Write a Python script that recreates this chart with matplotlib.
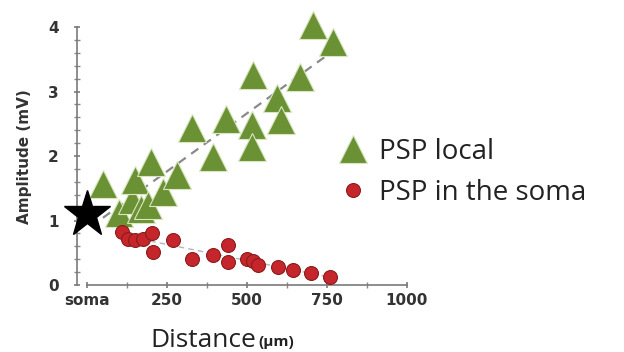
import numpy as np
import matplotlib
matplotlib.use("Agg")
import matplotlib.pyplot as plt
from matplotlib.ticker import MultipleLocator, FixedLocator

# Distance from soma (µm) and PSP amplitude (mV)
local_dist = [50, 100, 140, 150, 170, 192, 200, 239, 281, 328, 394, 436,
              515, 515, 519, 593, 608, 666, 707, 770]
local_amp = [1.57, 1.12, 1.32, 1.63, 1.18, 1.24, 1.90, 1.45, 1.71, 2.43, 1.98, 2.58,
             2.48, 2.14, 3.26, 2.90, 2.56, 3.23, 4.03, 3.77]

soma_dist = [108, 129, 150, 176, 202, 207, 270, 327, 394, 442, 442, 499,
             519, 535, 598, 645, 702, 760]
soma_amp = [0.83, 0.72, 0.70, 0.72, 0.80, 0.52, 0.70, 0.41, 0.46, 0.62, 0.36, 0.41,
            0.37, 0.31, 0.28, 0.23, 0.18, 0.12]

soma_ref_dist = [0]
soma_ref_amp = [1.1]

xtick_vals = [0, 250, 500, 750, 1000]
xtick_labels = ["soma", "250", "500", "750", "1000"]
ytick_vals = [0, 1, 2, 3, 4]

green = "#6a9133"
red = "#c4262b"

fig = plt.figure(figsize=(6.24, 3.52), dpi=100)
ax = fig.add_axes([0.124, 0.181, 0.533, 0.757])
ax.set_xlim(-30, 1010)
ax.set_ylim(-0.05, 4.08)

# linear trend lines
trend_style = [dict(color="#8a8a8a", lw=1.6), dict(color="#b5b5b5", lw=1.0)]
for (xs, ys), st in zip(((local_dist, local_amp), (soma_dist, soma_amp)), trend_style):
    k, b = np.polyfit(xs, ys, 1)
    xx = np.array([min(xs), max(xs)])
    ax.plot(xx, k * xx + b, ls=(0, (4, 3)), zorder=1, **st)

ax.plot(local_dist, local_amp, ls="none", marker="^", ms=20, mfc=green,
        mec="#d9e6c0", mew=0.8, clip_on=False, zorder=3, label="PSP local")
ax.plot(soma_dist, soma_amp, ls="none", marker="o", ms=10, mfc=red,
        mec="#8c1b1b", mew=0.8, clip_on=False, zorder=3, label="PSP in the soma")
ax.plot(soma_ref_dist, soma_ref_amp, ls="none", marker="*", ms=35, color="black",
        clip_on=False, zorder=4)

for s in ("top", "right"):
    ax.spines[s].set_visible(False)
ax.spines["left"].set_position(("data", -30))
ax.spines["left"].set_bounds(0, 4)
ax.spines["bottom"].set_position(("data", 0))
ax.spines["bottom"].set_bounds(0, 1000)
for s in ("left", "bottom"):
    ax.spines[s].set_color("#7a7a7a")
    ax.spines[s].set_linewidth(1.2)

ax.xaxis.set_major_locator(FixedLocator(xtick_vals))
ax.set_xticklabels(xtick_labels)
ax.xaxis.set_minor_locator(MultipleLocator(125))
ax.yaxis.set_major_locator(FixedLocator(ytick_vals))
ax.yaxis.set_minor_locator(MultipleLocator(0.2))
ax.tick_params(which="major", direction="inout", length=5, width=1.2,
               color="#7a7a7a", labelsize=11, labelcolor="#333333")
ax.tick_params(which="minor", direction="inout", length=4, width=1.0, color="#8a8a8a")
ax.tick_params(axis="x", pad=3)
ax.tick_params(axis="y", pad=11)
for lab in ax.get_xticklabels() + ax.get_yticklabels():
    lab.set_fontweight("bold")

ax.set_ylabel("Amplitude (mV)", fontsize=11, fontweight="bold", color="#333333")
ax.yaxis.set_label_coords(32 / 624, 1 - 157 / 352, transform=fig.transFigure)

fig.text(150 / 624, 1 - 347 / 352, "Distance", fontsize=19, family="Open Sans",
         color="#222222", ha="left", va="baseline")
fig.text(258 / 624, 1 - 346 / 352, "(µm)", fontsize=11, family="Open Sans",
         fontweight="bold", color="#222222", ha="left", va="baseline")

leg = ax.legend(loc="upper left", bbox_to_anchor=(338 / 624, 1 - 138 / 352),
                bbox_transform=fig.transFigure, frameon=False,
                prop={"family": "Open Sans", "size": 20}, handlelength=1.1,
                handletextpad=0.36, labelspacing=0.45, borderpad=0,
                borderaxespad=0)
for t in leg.get_texts():
    t.set_color("#222222")

fig.savefig("out.png", dpi=100, facecolor="white")
